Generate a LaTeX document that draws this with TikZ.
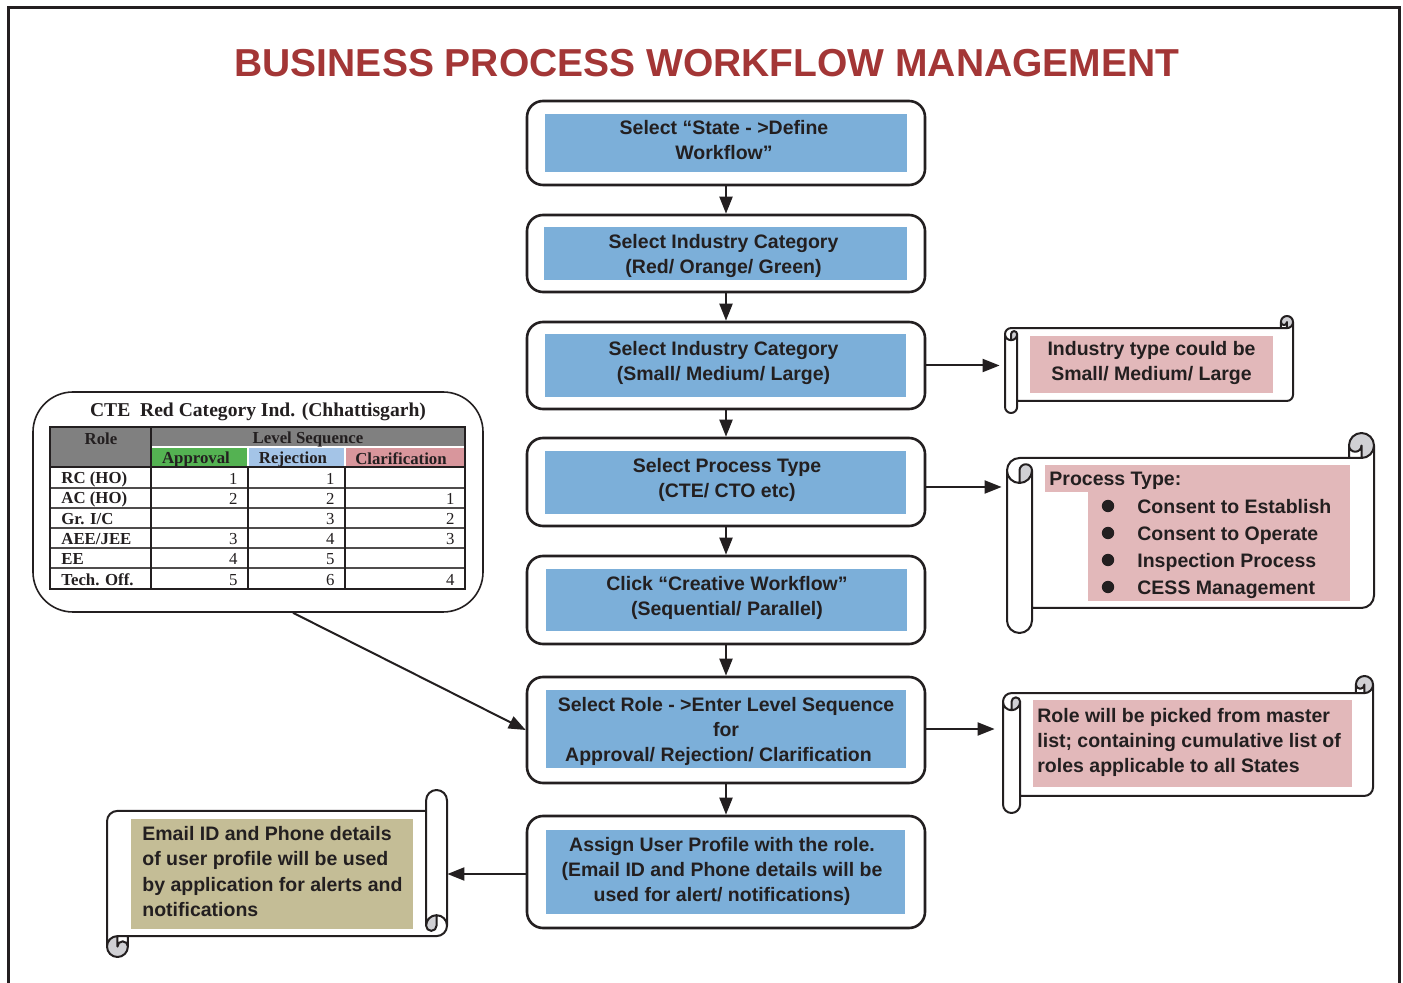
\documentclass[tikz,border=0pt]{standalone}
\usepackage{fontspec}
\setmainfont{Liberation Serif}
\setsansfont{Liberation Sans}
\usetikzlibrary{arrows.meta}
\definecolor{txt}{RGB}{35,31,32}
\definecolor{titlered}{RGB}{163,54,54}
\definecolor{boxblue}{RGB}{124,175,217}
\definecolor{notepink}{RGB}{226,184,186}
\definecolor{notekhaki}{RGB}{196,189,150}
\definecolor{curlgray}{RGB}{208,208,212}
\definecolor{hdrgray}{RGB}{128,128,128}
\definecolor{hdrgreen}{RGB}{84,178,82}
\definecolor{hdrblue}{RGB}{164,196,231}
\definecolor{hdrpink}{RGB}{216,150,156}

% horizontal scroll, local coordinates (0,0)-(w,h), curl size ch
\newcommand\scrollshape[3]{%
  \pgfmathsetmacro\sW{#1}\pgfmathsetmacro\sH{#2}%
  \pgfmathsetmacro\sC{#3}\pgfmathsetmacro\sCh{#3/2}\pgfmathsetmacro\sCq{#3/4}%
  \pgfmathsetmacro\sYiii{1.5*#3}\pgfmathsetmacro\sYiv{2*#3}%
  \pgfmathsetmacro\sYvi{#2-#3}\pgfmathsetmacro\sYvii{#2-#3/2}\pgfmathsetmacro\sYv{#2-1.5*#3}%
  \pgfmathsetmacro\sXiii{#1-#3}\pgfmathsetmacro\sXiv{#1-#3/2}%
  \fill[white] (\sW,\sCh) arc[start angle=0,delta angle=90,radius=\sCh] -- (\sXiv,\sCh)
     arc[start angle=0,delta angle=180,radius=\sCq] -- (\sXiii,\sC) -- (\sCh,\sC)
     arc[start angle=270,delta angle=-90,radius=\sCh] -- (0,\sYvii)
     arc[start angle=180,delta angle=-180,radius=\sCh] -- (\sC,\sYvi) -- (\sXiv,\sYvi)
     arc[start angle=90,delta angle=-90,radius=\sCh] -- cycle;
  \fill[curlgray] (\sCh,\sYiv) arc[start angle=90,delta angle=-90,radius=\sCh]
     arc[start angle=0,delta angle=-180,radius=\sCq] -- cycle
     (\sXiv,\sC) arc[start angle=90,delta angle=-270,radius=\sCh]
     arc[start angle=180,delta angle=-180,radius=\sCq] -- cycle;
  \draw[scrollline] (0,\sYiii) arc[start angle=180,delta angle=90,radius=\sCh] -- (\sXiii,\sC)
     -- (\sXiii,\sCh) arc[start angle=180,delta angle=180,radius=\sCh] -- (\sW,\sYv)
     arc[start angle=0,delta angle=90,radius=\sCh] -- (\sC,\sYvi) -- (\sC,\sYvii)
     arc[start angle=0,delta angle=180,radius=\sCh] -- cycle
     (\sXiii,\sC) -- (\sXiv,\sC) arc[start angle=90,delta angle=-90,radius=\sCh]
     (\sXiv,\sC) -- (\sXiv,\sCh) arc[start angle=0,delta angle=180,radius=\sCq]
     (\sCh,\sYiv) -- (\sCh,\sYiii) arc[start angle=180,delta angle=180,radius=\sCq]
     arc[start angle=0,delta angle=180,radius=\sCh]
     (\sC,\sYiii) -- (\sC,\sYvi);
}

\begin{document}
\begin{tikzpicture}[x=0.5pt,y=-0.5pt,
  sansb/.style={font=\sffamily\bfseries\fontsize{9.75}{12.5}\selectfont, text=txt},
  outerbox/.style={draw=txt, line width=1.3pt, rounded corners=8pt, fill=white,
     minimum width=199pt, inner sep=0pt},
  innerbox/.style={fill=boxblue, inner sep=0pt},
  boxtext/.style={sansb, align=center, inner sep=0pt},
  flowarrow/.style={draw=txt, line width=1pt, -{Triangle[length=8.5pt,width=6.5pt]}},
  scrollline/.style={draw=txt, line width=1pt, line join=round},
  scrollframe/.style={draw=none, fill=none, inner sep=0pt},
  notebg/.style={inner sep=0pt},
  notetext/.style={sansb, align=left, inner sep=0pt, anchor=west},
  cellrole/.style={font=\rmfamily\bfseries\fontsize{8.4}{10}\selectfont, text=txt, anchor=west, inner sep=0pt},
  cellnum/.style={font=\rmfamily\fontsize{8.4}{10}\selectfont, text=txt, anchor=east, inner sep=0pt},
  cellhead/.style={font=\rmfamily\bfseries\fontsize{8.4}{10}\selectfont, text=txt, inner sep=0pt}
]
\useasboundingbox (0,0) rectangle (1403,983);
\fill[white] (0,0) rectangle (1403,983);

% page frame (open at the bottom)
\draw[txt, line width=1.5pt] (8,995) -- (8,7.5) -- (1399.5,7.5) -- (1399.5,995);

% title
\node[font=\sffamily\bfseries\fontsize{19.5}{23}\selectfont, text=titlered] (title) at (707,63)
  {BUSINESS PROCESS WORKFLOW MANAGEMENT};

% ---------- main flow ----------
\node[outerbox, minimum height=42pt] (b1) at (726,143) {};
\node[innerbox, minimum width=181pt, minimum height=29pt] (i1) at (726,143) {};
\node[boxtext] (t1) at (724,140) {Select “State - >Define\\Workflow”};
\node[outerbox, minimum height=38.5pt] (b2) at (726,253.5) {};
\node[innerbox, minimum width=181.5pt, minimum height=26.5pt] (i2) at (725.5,253.5) {};
\node[boxtext] (t2) at (723.5,256.5) {Select Industry Category\\(Red/ Orange/ Green)};
\node[outerbox, minimum height=43.5pt] (b3) at (726,365.5) {};
\node[innerbox, minimum width=180.5pt, minimum height=31.5pt] (i3) at (725.5,365.5) {};
\node[boxtext] (t3) at (723.5,363.5) {Select Industry Category\\(Small/ Medium/ Large)};
\node[outerbox, minimum height=44pt] (b4) at (726,482) {};
\node[innerbox, minimum width=180.5pt, minimum height=31.5pt] (i4) at (725.5,482.5) {};
\node[boxtext] (t4) at (727,479.5) {Select Process Type\\(CTE/ CTO etc)};
\node[outerbox, minimum height=44pt] (b5) at (726,600) {};
\node[innerbox, minimum width=180.5pt, minimum height=31pt] (i5) at (726.5,600) {};
\node[boxtext] (t5) at (727,597.5) {Click “Creative Workflow”\\(Sequential/ Parallel)};
\node[outerbox, minimum height=53pt] (b6) at (726,730) {};
\node[innerbox, minimum width=180pt, minimum height=39pt] (i6) at (726,729) {};
\node[boxtext] (t6) at (726,731) {Select Role - >Enter Level Sequence\\for\\Approval/ Rejection/ Clarification\kern7.5pt};
\node[outerbox, minimum height=56pt] (b7) at (726,872) {};
\node[innerbox, minimum width=179.5pt, minimum height=42pt] (i7) at (725.5,872) {};
\node[boxtext] (t7) at (722,871) {Assign User Profile with the role.\\(Email ID and Phone details will be\\used for alert/ notifications)};

\draw[flowarrow] (b1) -- (b2);
\draw[flowarrow] (b2) -- (b3);
\draw[flowarrow] (b3) -- (b4);
\draw[flowarrow] (b4) -- (b5);
\draw[flowarrow] (b5) -- (b6);
\draw[flowarrow] (b6) -- (b7);

% ---------- scrolls ----------
\begin{scope}[shift={(1005,316)}] \scrollshape{288}{97}{12.1} \end{scope}
\begin{scope}[shift={(1007,433)}] \scrollshape{367}{200}{25} \end{scope}
\begin{scope}[shift={(1003,676)}] \scrollshape{370}{137}{17.1} \end{scope}
\begin{scope}[shift={(447,957)},xscale=-1,yscale=-1] \scrollshape{340}{167}{20.9} \end{scope}

\node[scrollframe, minimum width=144pt, minimum height=48.5pt] (s1) at (1149,364.5) {};
\node[scrollframe, minimum width=183.5pt, minimum height=100pt] (s2) at (1190.5,533) {};
\node[scrollframe, minimum width=185pt, minimum height=68.5pt] (s3) at (1188,744.5) {};
\node[scrollframe, minimum width=170pt, minimum height=83.5pt] (s4) at (277,873.5) {};

% scroll 1
\node[notebg, fill=notepink, minimum width=121.5pt, minimum height=28.5pt] (p1) at (1151.5,364.5) {};
\node[boxtext] (p1t) at (1151.5,363.5) {Industry type could be\\Small/ Medium/ Large};
% scroll 2
\node[notebg, fill=notepink, minimum width=152.5pt, minimum height=13.5pt] (p2h) at (1197.5,478.5) {};
\node[notetext] (p2ht) at (1049,481) {Process Type:};
\node[notebg, fill=notepink, minimum width=131pt, minimum height=55pt] (p2) at (1219,546) {};
\node[notetext, font=\sffamily\bfseries\fontsize{9.75}{13.5}\selectfont] (p2t) at (1137,549)
  {Consent to Establish\\Consent to Operate\\Inspection Process\\CESS Management};
\foreach \by in {506,533,560,587} \fill[txt] (1108,\by) circle (3.1pt);
% scroll 3
\node[notebg, fill=notepink, minimum width=159.5pt, minimum height=43.5pt] (p3) at (1192.5,743.5) {};
\node[notetext] (p3t) at (1037,742)
  {Role will be picked from master\\list; containing cumulative list of\\roles applicable to all States};
% scroll 4
\node[notebg, fill=notekhaki, minimum width=141pt, minimum height=55pt] (p4) at (272,874) {};
\node[notetext, font=\sffamily\bfseries\fontsize{9.75}{12.65}\selectfont] (p4t) at (142,871.5)
  {Email ID and Phone details\\of user profile will be used\\by application for alerts and\\notifications};

\draw[flowarrow, shorten >=2.5pt] (b3.east) -- (b3.east -| s1.west);
\draw[flowarrow, shorten >=2.5pt] ([yshift=-2.5pt]b4.east) -- ([yshift=-2.5pt]b4.east -| s2.west);
\draw[flowarrow, shorten >=4pt] ([yshift=0.5pt]b6.east) -- ([yshift=0.5pt]b6.east -| s3.west);
\draw[flowarrow] ([yshift=-1pt]b7.west) -- ([yshift=-1pt]b7.west -| s4.east);

% ---------- table panel ----------
\node[draw=txt, line width=0.8pt, rounded corners=20pt, minimum width=225pt, minimum height=110pt,
  fill=white] (tbox) at (258,502) {};
\node[font=\rmfamily\bfseries\fontsize{9.8}{12}\selectfont, text=txt, inner sep=0pt] (ttitle) at (258,412)
  {CTE\ \ Red Category Ind. (Chhattisgarh)};

\fill[hdrgray] (50,427) rectangle (465,447);
\fill[hdrgray] (50,447) rectangle (151,467);
\fill[hdrgreen] (151,447) rectangle (248,467);
\fill[hdrblue] (248,447) rectangle (345,467);
\fill[hdrpink] (345,447) rectangle (465,467);
\draw[white, line width=0.6pt] (151,447) -- (465,447) (248,447) -- (248,467) (345,447) -- (345,467);
\draw[txt, line width=0.6pt] (50,467) -- (465,467);
\foreach \ly in {488,508,528,548,568} \draw[txt!80, line width=0.6pt] (50,\ly) -- (465,\ly);
\draw[txt, line width=0.6pt] (151,427) -- (151,589) (248,467) -- (248,589) (345,467) -- (345,589);
\draw[txt, line width=0.8pt] (50,427) rectangle (465,589);

\node[cellhead] (hrole) at (101,439) {Role};
\node[cellhead] (hlevel) at (308,439.5) {Level Sequence};
\node[cellhead] (happ) at (196,459) {Approval};
\node[cellhead] (hrej) at (293,459) {Rejection};
\node[cellhead] (hcla) at (401,459) {Clarification};

\node[cellrole] (role1) at (61,479) {RC (HO)};
\node[cellnum] (app1) at (238,479) {1};
\node[cellnum] (rej1) at (335,479) {1};
\node[cellrole] (role2) at (61,499) {AC (HO)};
\node[cellnum] (app2) at (238,499) {2};
\node[cellnum] (rej2) at (335,499) {2};
\node[cellnum] (cla2) at (455,499) {1};
\node[cellrole] (role3) at (61,519) {Gr. I/C};
\node[cellnum] (rej3) at (335,519) {3};
\node[cellnum] (cla3) at (455,519) {2};
\node[cellrole] (role4) at (61,539) {AEE/JEE};
\node[cellnum] (app4) at (238,539) {3};
\node[cellnum] (rej4) at (335,539) {4};
\node[cellnum] (cla4) at (455,539) {3};
\node[cellrole] (role5) at (61,559) {EE};
\node[cellnum] (app5) at (238,559) {4};
\node[cellnum] (rej5) at (335,559) {5};
\node[cellrole] (role6) at (61,580) {Tech. Off.};
\node[cellnum] (app6) at (238,580) {5};
\node[cellnum] (rej6) at (335,580) {6};
\node[cellnum] (cla6) at (455,580) {4};

\draw[flowarrow] ([xshift=17.5pt]tbox.south) -- (b6.west);
\end{tikzpicture}
\end{document}
